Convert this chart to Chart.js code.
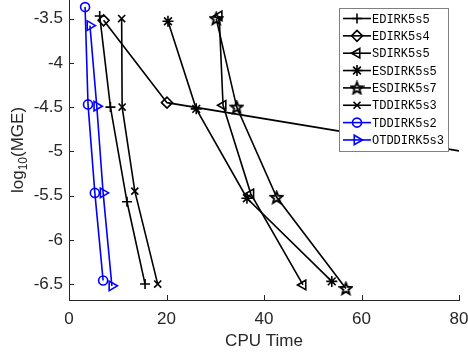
<!DOCTYPE html>
<html>
<head>
<meta charset="utf-8">
<script src="https://cdn.jsdelivr.net/npm/chart.js@4.4.1/dist/chart.umd.min.js"></script>
<style>
  html, body { margin: 0; padding: 0; background: #fff; }
  #wrap { width: 468px; height: 352px; }
</style>
</head>
<body>
<div id="wrap"><canvas id="mgeChart" width="468" height="352"></canvas></div>
<script>
// series names, in legend order
var names = ['EDIRK5s5', 'EDIRK5s4', 'SDIRK5s5', 'ESDIRK5s5', 'ESDIRK5s7', 'TDDIRK5s3', 'TDDIRK5s2', 'OTDDIRK5s3'];

// CPU time (x) and log10(MGE) (y) for each scheme
var edirk5s5_x = [6.3, 8.5, 11.9, 15.6];
var edirk5s5_y = [-3.47, -4.5, -5.57, -6.5];
var edirk5s4_x = [7.1, 20.1, 130, 300];
var edirk5s4_y = [-3.52, -4.45, -5.45, -6.5];
var sdirk5s5_x = [30.8, 31.6, 37.3, 48.0];
var sdirk5s5_y = [-3.47, -4.48, -5.48, -6.51];
var esdirk5s5_x = [20.3, 26.1, 36.5, 53.9];
var esdirk5s5_y = [-3.53, -4.52, -5.53, -6.47];
var esdirk5s7_x = [30.2, 34.4, 42.6, 56.8];
var esdirk5s7_y = [-3.5, -4.5, -5.52, -6.55];
var tddirk5s3_x = [10.8, 10.9, 13.5, 18.2];
var tddirk5s3_y = [-3.5, -4.5, -5.45, -6.5];
var tddirk5s2_x = [3.3, 3.9, 5.3, 7.0];
var tddirk5s2_y = [-3.37, -4.47, -5.47, -6.46];
var otddirk5s3_x = [4.3, 5.7, 7.0, 8.8];
var otddirk5s3_y = [-3.58, -4.49, -5.47, -6.52];

var xTicks = [0, 20, 40, 60, 80];
var yTicks = [-6.5, -6, -5.5, -5, -4.5, -4, -3.5];

var axisColor = '#262626';

function pts(xs, ys) {
    return xs.map(function (x, i) { return {x: x, y: ys[i]}; });
}

// five pointed star marker (not built in)
function makePentagram() {
    var c = document.createElement('canvas');
    c.width = 15; c.height = 15;
    var g = c.getContext('2d');
    g.translate(7.5, 8);
    g.beginPath();
    for (var i = 0; i < 10; i++) {
        var r = (i % 2 === 0) ? 6.2 : 2.7;
        var a = -Math.PI / 2 + i * Math.PI / 5;
        if (i === 0) g.moveTo(r * Math.cos(a), r * Math.sin(a));
        else g.lineTo(r * Math.cos(a), r * Math.sin(a));
    }
    g.closePath();
    g.strokeStyle = '#000';
    g.lineWidth = 1.9;
    g.stroke();
    return c;
}
var pentagram = makePentagram();

function series(label, data, color, style, rot, radius) {
    return {
        label: label,
        data: data,
        borderColor: color,
        backgroundColor: 'rgba(0,0,0,0)',
        borderWidth: 1.6,
        pointStyle: style,
        pointRotation: rot,
        pointRadius: radius,
        pointHoverRadius: radius,
        pointBorderWidth: 1.6,
        pointBorderColor: color,
        pointBackgroundColor: 'rgba(0,0,0,0)',
        fill: false,
        tension: 0,
        clip: 0
    };
}

var datasets = [
    series(names[0], pts(edirk5s5_x, edirk5s5_y), '#000', 'cross', 0, 5),
    series(names[1], pts(edirk5s4_x, edirk5s4_y), '#000', 'rectRot', 0, 5.5),
    series(names[2], pts(sdirk5s5_x, sdirk5s5_y), '#000', 'triangle', -90, 5.5),
    series(names[3], pts(esdirk5s5_x, esdirk5s5_y), '#000', 'star', 0, 5.5),
    series(names[4], pts(esdirk5s7_x, esdirk5s7_y), '#000', pentagram, 0, 6),
    series(names[5], pts(tddirk5s3_x, tddirk5s3_y), '#000', 'crossRot', 0, 5),
    series(names[6], pts(tddirk5s2_x, tddirk5s2_y), '#0000ff', 'circle', 0, 4.5),
    series(names[7], pts(otddirk5s3_x, otddirk5s3_y), '#0000ff', 'triangle', 90, 5.5)
];

function drawMarker(ctx, ds, x, y) {
    if (Chart.helpers && Chart.helpers.drawPoint) {
        ctx.save();
        ctx.strokeStyle = ds.pointBorderColor;
        ctx.fillStyle = ds.pointBackgroundColor;
        ctx.lineWidth = ds.pointBorderWidth;
        Chart.helpers.drawPoint(ctx, {
            pointStyle: ds.pointStyle,
            rotation: ds.pointRotation,
            radius: ds.pointRadius,
            borderWidth: ds.pointBorderWidth
        }, x, y);
        ctx.restore();
    }
}

// axis ticks pointing inward, axis titles and the boxed legend
var matlabLook = {
    id: 'matlabLook',
    afterDatasetsDraw: function (chart) {
        var ctx = chart.ctx;
        var area = chart.chartArea;
        var xs = chart.scales.x, ys = chart.scales.y;
        ctx.save();
        ctx.strokeStyle = axisColor;
        ctx.lineWidth = 1;
        xTicks.forEach(function (v) {
            var px = Math.round(xs.getPixelForValue(v)) + 0.5;
            ctx.beginPath();
            ctx.moveTo(px, area.bottom);
            ctx.lineTo(px, area.bottom - 5);
            ctx.stroke();
        });
        yTicks.forEach(function (v) {
            var py = Math.round(ys.getPixelForValue(v)) + 0.5;
            ctx.beginPath();
            ctx.moveTo(area.left, py);
            ctx.lineTo(area.left + 5, py);
            ctx.stroke();
        });

        // axis titles
        ctx.fillStyle = axisColor;
        ctx.font = '17px "Liberation Sans", Arial, sans-serif';
        ctx.textAlign = 'center';
        ctx.textBaseline = 'middle';
        ctx.fillText('CPU Time', (area.left + area.right) / 2, 341);

        ctx.save();
        ctx.translate(17, (area.top + area.bottom) / 2);
        ctx.rotate(-Math.PI / 2);
        ctx.textAlign = 'left';
        ctx.textBaseline = 'alphabetic';
        var big = '17px "Liberation Sans", Arial, sans-serif';
        var small = '12px "Liberation Sans", Arial, sans-serif';
        ctx.font = big;
        var w1 = ctx.measureText('log').width;
        var w3 = ctx.measureText('(MGE)').width;
        ctx.font = small;
        var w2 = ctx.measureText('10').width;
        var x0 = -(w1 + w2 + w3) / 2;
        var base = 6;
        ctx.font = big;
        ctx.fillText('log', x0, base);
        ctx.font = small;
        ctx.fillText('10', x0 + w1, base + 4);
        ctx.font = big;
        ctx.fillText('(MGE)', x0 + w1 + w2, base);
        ctx.restore();

        // legend
        var bx = 339.5, by = 8.5, bw = 109, bh = 143;
        ctx.fillStyle = '#fff';
        ctx.fillRect(bx, by, bw, bh);
        ctx.strokeStyle = '#7f7f7f';
        ctx.lineWidth = 1;
        ctx.strokeRect(bx, by, bw, bh);
        ctx.font = '12px "Liberation Mono", "DejaVu Sans Mono", monospace';
        ctx.textAlign = 'left';
        ctx.textBaseline = 'middle';
        chart.data.datasets.forEach(function (ds, i) {
            var ry = 18.5 + i * 17.35;
            ctx.strokeStyle = ds.borderColor;
            ctx.lineWidth = ds.borderWidth;
            ctx.beginPath();
            ctx.moveTo(343, ry);
            ctx.lineTo(371, ry);
            ctx.stroke();
            drawMarker(ctx, ds, 357, ry);
            ctx.fillStyle = '#000';
            ctx.fillText(ds.label, 372, ry + 1);
        });
        ctx.restore();
    }
};

new Chart(document.getElementById('mgeChart'), {
    type: 'line',
    data: {datasets: datasets},
    plugins: [matlabLook],
    options: {
        responsive: false,
        animation: false,
        devicePixelRatio: 1,
        layout: {autoPadding: false, padding: {top: 0, right: 9, left: 0, bottom: 0}},
        plugins: {
            legend: {display: false},
            tooltip: {enabled: false}
        },
        scales: {
            x: {
                type: 'linear',
                min: 0,
                max: 80,
                afterFit: function (scale) {
                    scale.height = 52;
                    scale.paddingLeft = 0;
                    scale.paddingRight = 0;
                },
                afterBuildTicks: function (scale) {
                    scale.ticks = xTicks.map(function (v) { return {value: v}; });
                },
                grid: {display: false, drawTicks: false},
                border: {display: true, color: axisColor, width: 1},
                ticks: {
                    color: axisColor,
                    padding: 9,
                    maxRotation: 0,
                    font: {family: '"Liberation Sans", Arial, sans-serif', size: 17},
                    callback: function (v) { return String(v); }
                }
            },
            y: {
                type: 'linear',
                min: -6.68,
                max: -3.29,
                afterFit: function (scale) {
                    scale.width = 69;
                    scale.paddingTop = 0;
                    scale.paddingBottom = 0;
                },
                afterBuildTicks: function (scale) {
                    scale.ticks = yTicks.map(function (v) { return {value: v}; });
                },
                grid: {display: false, drawTicks: false},
                border: {display: true, color: axisColor, width: 1},
                ticks: {
                    color: axisColor,
                    padding: 6,
                    font: {family: '"Liberation Sans", Arial, sans-serif', size: 17},
                    callback: function (v) { return String(v); }
                }
            }
        }
    }
});
</script>
</body>
</html>
